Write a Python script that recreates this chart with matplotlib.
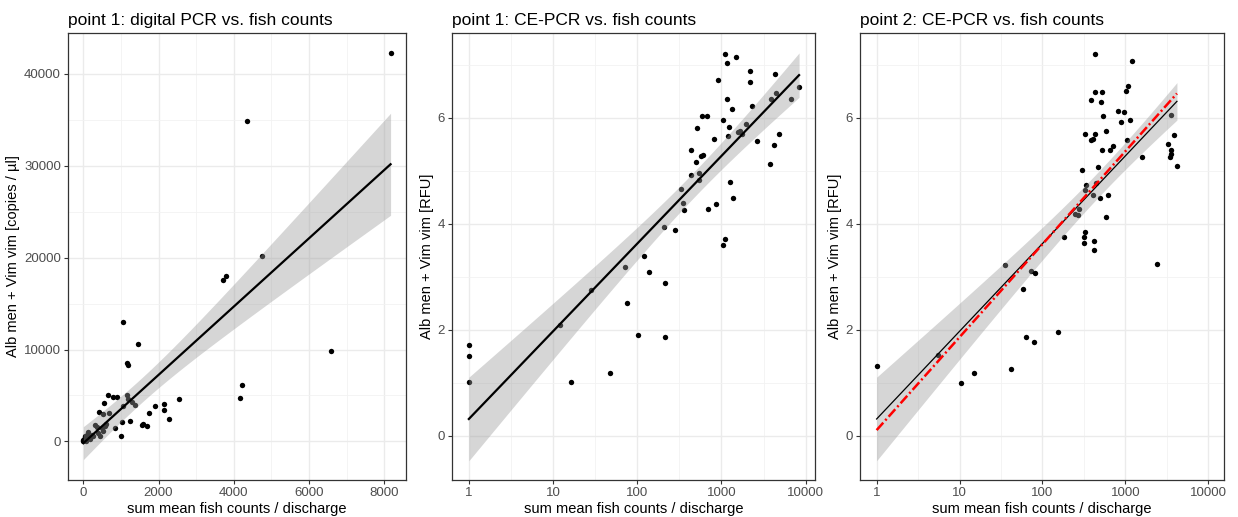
import numpy as np
import matplotlib.pyplot as plt
from matplotlib.ticker import FixedLocator

plt.rcParams['font.family'] = ['Liberation Sans', 'DejaVu Sans']

# point 1: digital PCR vs. fish counts
dpcr_x = [8168, 4363, 4744, 3700, 3788, 1062, 1443, 1150, 1195, 6575, 4221, 4160,
          2540, 2150, 2150, 2266, 1903, 1743, 1549, 1593, 1681, 1230, 1035, 1009,
          850, 646, 779, 885, 1150, 1195, 1283, 1372, 558, 425, 531, 690, 1062,
          310, 354, 487, 575, 442, 398, 265, 177, 133, 88, 44, 0, 0, 221, 520,
          600, 30, 60]
dpcr_y = [42240, 34910, 20180, 17580, 18010, 12960, 10650, 8555, 8300, 9855, 6100, 4765,
          4585, 4040, 3430, 2420, 3827, 3070, 1805, 1949, 1697, 2238, 2094, 541,
          1516, 5018, 4800, 4800, 5054, 4585, 4332, 3971, 4224, 3177, 2996, 3068, 3900,
          1805, 1624, 1444, 1733, 541, 902, 541, 289, 1011, 722, 541, 180, 0, 722, 1100,
          1900, 300, 100]

# point 1: CE-PCR vs. fish counts
ce1_x = [1, 1, 1, 16.4, 47.9, 12.05, 28, 70.8, 75.5, 101, 121, 137, 212, 212, 205,
         284, 329, 347, 363, 432, 439, 495, 517, 542, 542, 567, 603, 582, 675, 698,
         808, 870, 901, 1033, 1090, 1048, 1090, 1172, 1172, 1216, 1194, 1260, 1331,
         1380, 1485, 1585, 1672, 1766, 1933, 2195, 2195, 2296, 2608, 3750, 3853,
         4217, 4335, 4498, 4835, 6700, 8340]
ce1_y = [1.72, 1.50, 1.01, 1.01, 1.18, 2.09, 2.75, 3.18, 2.50, 1.91, 3.40, 3.09, 2.89,
         1.86, 3.94, 3.89, 4.65, 4.39, 4.27, 4.93, 5.40, 5.17, 5.80, 4.96, 4.82, 5.28,
         5.30, 6.03, 6.03, 4.28, 5.60, 4.37, 6.71, 3.60, 3.72, 5.96, 7.21, 7.03, 6.35,
         5.83, 5.65, 4.79, 6.16, 4.48, 7.14, 5.74, 5.75, 5.69, 5.88, 6.88, 6.68, 6.23,
         5.57, 5.13, 6.35, 5.48, 6.82, 6.46, 5.69, 6.35, 6.58]

# point 2: CE-PCR vs. fish counts
ce2_x = [1, 5.5, 10.3, 14.9, 35.3, 41.3, 57.6, 63.2, 72, 81.2, 78.9, 152, 180, 249,
         270, 278, 297, 316, 316, 326, 326, 329, 338, 381, 384, 410, 410, 414, 422,
         426, 426, 434, 446, 467, 489, 503, 522, 517, 532, 578, 589, 622, 652, 708,
         822, 893, 970, 1007, 1035, 1084, 1135, 1189, 1600, 2426, 3233, 3450, 3515,
         3515, 3548, 3855, 4190]
ce2_y = [1.32, 1.52, 1.00, 1.18, 3.22, 1.26, 2.78, 1.87, 3.12, 3.08, 1.77, 1.96, 3.75,
         4.19, 4.16, 4.28, 5.02, 3.64, 3.76, 3.85, 4.63, 5.69, 4.74, 5.58, 6.34, 5.61,
         4.55, 3.68, 3.50, 5.70, 6.48, 7.20, 4.77, 5.08, 4.48, 6.29, 6.48, 5.39, 6.04,
         4.13, 5.76, 4.55, 5.40, 5.47, 6.13, 5.92, 6.11, 6.51, 5.59, 6.60, 5.96, 7.07,
         5.27, 3.25, 5.51, 5.27, 5.40, 5.31, 6.06, 5.67, 5.09]

titles = ['point 1: digital PCR vs. fish counts',
          'point 1: CE-PCR vs. fish counts',
          'point 2: CE-PCR vs. fish counts']
xlabel = 'sum mean fish counts / discharge'
ylabels = ['Alb men + Vim vim [copies / µl]',
           'Alb men + Vim vim [RFU]',
           'Alb men + Vim vim [RFU]']


def lm_band(x, y, xs, t=2.0):
    X = np.column_stack([np.ones_like(x), x])
    beta = np.linalg.lstsq(X, y, rcond=None)[0]
    resid = y - X @ beta
    s2 = resid @ resid / (len(x) - 2)
    cov = s2 * np.linalg.inv(X.T @ X)
    Xs = np.column_stack([np.ones_like(xs), xs])
    fit = Xs @ beta
    se = np.sqrt(np.einsum('ij,jk,ik->i', Xs, cov, Xs))
    return fit, fit - t * se, fit + t * se


def style(ax):
    ax.set_facecolor('white')
    for s in ax.spines.values():
        s.set_color('#333333')
        s.set_linewidth(0.9)
    ax.grid(which='major', color='#EBEBEB', linewidth=1.0, zorder=0)
    ax.grid(which='minor', color='#F2F2F2', linewidth=0.6, zorder=0)
    ax.set_axisbelow(True)
    ax.tick_params(which='major', length=3, width=0.8, color='#333333',
                   labelcolor='#4D4D4D', labelsize=9.5, pad=2)
    ax.tick_params(which='minor', length=0)


def expand(lo, hi, f=0.05):
    d = (hi - lo) * f
    return lo - d, hi + d


fig = plt.figure(figsize=(12.38, 5.17), dpi=100)
ax1 = fig.add_axes([0.0549, 0.0716, 0.273, 0.8646])
ax2 = fig.add_axes([0.3651, 0.0716, 0.2932, 0.8646])
ax3 = fig.add_axes([0.6947, 0.0716, 0.294, 0.8646])

# panel 1: linear x
x = np.array(dpcr_x, float)
y = np.array(dpcr_y, float)
xs = np.linspace(x.min(), x.max(), 200)
fit, lo, hi = lm_band(x, y, xs)
ax1.scatter(x, y, s=15, color='black', linewidths=0, zorder=2)
ax1.fill_between(xs, lo, hi, color='#999999', alpha=0.4, linewidth=0, zorder=3)
ax1.plot(xs, fit, color='black', linewidth=1.6, zorder=4)
ax1.set_xlim(*expand(x.min(), x.max()))
ax1.set_ylim(*expand(min(y.min(), lo.min()), max(y.max(), hi.max())))
ax1.xaxis.set_major_locator(FixedLocator([0, 2000, 4000, 6000, 8000]))
ax1.xaxis.set_minor_locator(FixedLocator([1000, 3000, 5000, 7000]))
ax1.yaxis.set_major_locator(FixedLocator([0, 10000, 20000, 30000, 40000]))
ax1.yaxis.set_minor_locator(FixedLocator([5000, 15000, 25000, 35000]))

# panel 2: log x, own fit
lx1 = np.log10(np.array(ce1_x, float))
y1 = np.array(ce1_y, float)
xs = np.linspace(lx1.min(), lx1.max(), 200)
fit, lo, hi = lm_band(lx1, y1, xs)
ax2.scatter(10 ** lx1, y1, s=15, color='black', linewidths=0, zorder=2)
ax2.fill_between(10 ** xs, lo, hi, color='#999999', alpha=0.4, linewidth=0, zorder=3)
ax2.plot(10 ** xs, fit, color='black', linewidth=1.6, zorder=4)
ax2.set_xlim(10 ** -0.2, 10 ** 4.11)

# panel 3: point 1 model (black + band) vs. point 2 fit (red dash-dot)
lx2 = np.log10(np.array(ce2_x, float))
y2 = np.array(ce2_y, float)
xs = np.linspace(lx2.min(), lx2.max(), 200)
fit, lo, hi = lm_band(lx1, y1, xs)
fit2 = lm_band(lx2, y2, xs)[0]
ax3.scatter(10 ** lx2, y2, s=15, color='black', linewidths=0, zorder=2)
ax3.fill_between(10 ** xs, lo, hi, color='#999999', alpha=0.4, linewidth=0, zorder=3)
ax3.plot(10 ** xs, fit, color='black', linewidth=0.9, zorder=4)
ax3.plot(10 ** xs, fit2, color='red', linewidth=1.8,
         linestyle=(0, (4, 1.2, 0.8, 1.2)), zorder=5)
ax3.set_xlim(10 ** -0.2, 10 ** 4.19)

for ax in (ax2, ax3):
    ax.set_xscale('log')
    ax.set_ylim(-0.83, 7.6)
    ax.xaxis.set_major_locator(FixedLocator([1, 10, 100, 1000, 10000]))
    ax.xaxis.set_minor_locator(FixedLocator([10 ** 0.5, 10 ** 1.5, 10 ** 2.5, 10 ** 3.5]))
    ax.set_xticklabels(['1', '10', '100', '1000', '10000'])
    ax.yaxis.set_major_locator(FixedLocator([0, 2, 4, 6]))
    ax.yaxis.set_minor_locator(FixedLocator([1, 3, 5, 7]))

for ax, t, yl in zip([ax1, ax2, ax3], titles, ylabels):
    style(ax)
    ax.set_title(t, loc='left', fontsize=12.5, pad=6)
    ax.set_xlabel(xlabel, fontsize=10.5, labelpad=2)
    ax.set_ylabel(yl, fontsize=10.5, labelpad=3)

fig.savefig('out.png', dpi=100)
